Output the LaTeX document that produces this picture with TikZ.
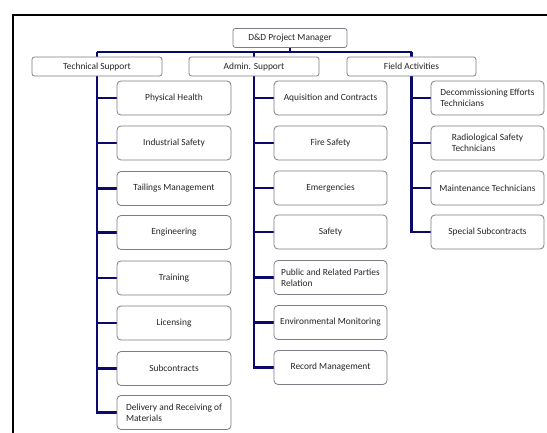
\documentclass[tikz,border=0pt]{standalone}
\usepackage{fontspec}
\setmainfont{Carlito}
\usepackage{tikz}
\usetikzlibrary{positioning, backgrounds}
\definecolor{orgnavy}{RGB}{10,10,110}
\definecolor{boxgray}{RGB}{125,125,135}

\begin{document}
\begin{tikzpicture}[x=1pt, y=-1pt, font=\fontsize{9.4}{11}\selectfont,
    orgline/.style={orgnavy, line width=2.6pt},
    headbox/.style={draw=boxgray, fill=white, rounded corners=2.5pt, thick,
                    minimum height=19pt, inner sep=1pt, text=black!85},
    unitbox/.style={draw=boxgray, fill=white, rounded corners=4pt, thick,
                    minimum width=113pt, minimum height=34pt, inner sep=2pt,
                    align=left, text=black!85}]
  \useasboundingbox (0,0) rectangle (547,433);
  % cornice aperta (solo lato sinistro e superiore)
  \draw[line width=2pt] (13,433) -- (13,15) -- (547,15);
  \coordinate (bus) at (0,52);

  % livello 0 e 1
  \node[headbox, minimum width=114pt] (mgr)   at (290,38)   {D\&D Project Manager};
  \node[headbox, minimum width=130pt] (tech)  at (97,66.5)  {Technical Support};
  \node[headbox, minimum width=130pt] (admin) at (254,66.5) {Admin. Support};
  \node[headbox, minimum width=129pt] (field) at (411.5,66.5) {Field Activities};

  % unita' sotto ciascun ramo
  \foreach \n/\y/\t in {phys/98/Physical Health, indus/143/Industrial Safety,
                        tail/188.5/Tailings Management, eng/232.5/Engineering,
                        train/278/Training, lic/323/Licensing,
                        subc/368.5/Subcontracts,
                        deliv/412.5/{Delivery and Receiving of\\Materials}}{
    \node[unitbox, minimum width=114pt] (\n) at (174,\y) {\t};
  }
  \foreach \n/\y/\t in {aqui/98/Aquisition and Contracts, fire/143/Fire Safety,
                        emer/188/Emergencies, safe/232/Safety,
                        pub/277.5/{Public and Related Parties\\Relation},
                        env/322.5/Environmental Monitoring,
                        rec/367.5/Record Management}{
    \node[unitbox] (\n) at (330.5,\y) {\t};
  }
  \foreach \n/\y/\t in {dec/98/{Decommissioning Efforts\\Technicians},
                        rad/143/{Radiological Safety\\Technicians},
                        maint/188/Maintenance Technicians,
                        spec/232/Special Subcontracts}{
    \node[unitbox] (\n) at (487.5,\y) {\t};
  }

  % collegamenti (dietro i box)
  \begin{scope}[on background layer]
    \draw[orgline] (mgr.south) -- (mgr.south |- bus);
    \draw[orgline] (tech.north |- bus) -- (field.north |- bus);
    \draw[orgline] (tech.north |- bus) |- (deliv.west);
    \draw[orgline] (admin.north |- bus) |- (rec.west);
    \draw[orgline] (field.north |- bus) |- (spec.west);
    \foreach \n in {phys, indus, tail, eng, train, lic, subc}
      \draw[orgline] (tech.south |- \n.west) -- (\n.west);
    \foreach \n in {aqui, fire, emer, safe, pub, env}
      \draw[orgline] (admin.south |- \n.west) -- (\n.west);
    \foreach \n in {dec, rad, maint}
      \draw[orgline] (field.south |- \n.west) -- (\n.west);
  \end{scope}
\end{tikzpicture}
\end{document}
